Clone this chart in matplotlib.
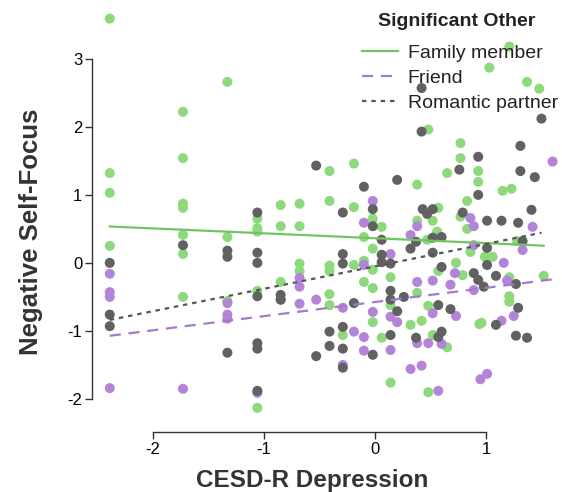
import matplotlib
matplotlib.use("Agg")
import matplotlib.pyplot as plt
import numpy as np

plt.rcParams['font.family'] = ['Liberation Sans', 'DejaVu Sans']
plt.rcParams['axes.unicode_minus'] = False

# CESD-R depression (x) and negative self-focus (y), by significant other
fam_x = [-2.39, -2.39, -2.39, -2.39, -1.73, -1.73, -1.73, -1.73, -1.73, -1.73,
         -1.73, -1.33, -1.33, -1.33, -1.06, -1.06, -1.06, -1.06, -1.06, -0.85,
         -0.85, -0.85, -0.68, -0.68, -0.68, -0.68, -0.41, -0.41, -0.41, -0.41,
         -0.41, -0.41, -0.19, -0.19, -0.19, -0.10, -0.10, -0.10, -0.02, -0.02,
         -0.02, -0.02, -0.02, 0.06, 0.06, 0.14, 0.14, 0.14, -0.29, 0.32,
         0.38, 0.38, 0.38, 0.42, 0.47, 0.48, 0.48, 0.48, 0.52, 0.52,
         0.56, 0.57, 0.57, 0.65, 0.65, 0.73, 0.77, 0.77, 0.77, 0.79,
         0.83, 0.83, 0.86, 0.93, 0.93, 0.94, 0.96, 0.99, 1.03, 1.06,
         1.15, 1.21, 1.21, 1.21, 1.21, 1.23, 1.28, 1.37, 1.48, 1.52]
fam_y = [3.59, 1.32, 1.03, 0.25, 2.22, 1.54, 0.87, 0.81, 0.41, 0.13,
         -0.50, 2.66, 0.38, -0.56, 0.65, 0.51, 0.46, -0.41, -2.13, 0.85,
         0.54, -0.28, 0.87, 0.54, -0.01, -0.12, 1.35, 0.91, -0.04, -0.12,
         -0.46, -0.62, 1.46, 0.82, -0.03, 0.38, 0.03, -0.28, 0.65, 0.21,
         -0.10, -0.37, -0.87, 0.53, -1.10, -0.21, -0.62, -1.76, -1.06, -0.91,
         1.15, 0.62, -0.44, -0.85, 0.34, 1.96, -0.63, -1.90, 0.62, -1.06,
         0.46, 0.81, -0.12, 1.32, -1.24, 0.00, 1.76, 1.54, 0.68, -0.18,
         0.91, 0.50, 0.16, 1.35, 1.19, -0.90, -0.88, 0.09, 2.87, 0.09,
         1.06, 3.18, -0.21, -0.49, -0.57, 1.09, 0.32, 2.66, 2.56, -0.19]

fr_x = [-2.39, -2.39, -2.39, -2.39, -1.73, -1.33, -1.33, -1.33, -1.06, -0.85,
        -0.68, -0.68, -0.68, -0.53, -0.29, -0.29, -0.19, -0.10, -0.10, -0.10,
        -0.10, -0.02, -0.02, 0.14, 0.14, 0.14, 0.20, 0.32, 0.32, 0.38,
        0.38, 0.38, 0.42, 0.48, 0.52, 0.52, 0.57, 0.60, 0.68, 0.72,
        0.73, 0.86, 0.89, 0.89, 0.89, 0.95, 1.01, 1.14, 1.16, 1.19,
        1.25, 1.33, 1.42, 1.60]
fr_y = [-0.16, -0.43, -0.50, -1.84, -1.85, -0.59, -0.76, -0.82, -1.91, -0.54,
        -0.22, -0.35, -0.60, -0.54, -0.66, -1.50, -1.01, 0.59, -0.03, -1.09,
        -1.29, 0.91, -0.72, 0.13, -0.79, -1.28, -0.87, 0.41, -1.56, 0.54,
        -0.28, -1.18, -1.51, -1.18, -0.26, -0.74, -1.88, -1.19, -0.32, -0.15,
        -0.78, 0.66, 0.54, 0.26, -0.40, -1.71, -1.63, -0.85, 0.00, -0.26,
        -0.78, 0.19, 0.53, 1.49]

rom_x = [-2.39, -2.39, -2.39, -1.73, -1.33, -1.33, -1.33, -1.06, -1.06, -1.06,
         -1.06, -1.06, -1.06, -1.06, -0.85, -0.85, -0.53, -0.53, -0.41, -0.41,
         -0.29, -0.29, -0.29, -0.29, -0.29, -0.29, -0.19, -0.10, -0.02, -0.02,
         -0.02, 0.06, 0.06, 0.06, 0.14, 0.14, 0.14, 0.14, 0.20, 0.20,
         0.26, 0.32, 0.37, 0.37, 0.42, 0.42, 0.43, 0.47, 0.52, 0.52,
         0.52, 0.57, 0.57, 0.60, 0.60, 0.60, 0.68, 0.76, 0.79, 0.89,
         0.93, 0.93, 0.93, 0.98, 1.01, 1.01, 1.01, 1.09, 1.09, 1.14,
         1.27, 1.27, 1.29, 1.29, 1.31, 1.31, 1.33, 1.37, 1.41, 1.44, 1.50]
rom_y = [0.00, -0.76, -0.93, 0.26, 0.18, 0.09, -1.32, 0.74, 0.15, 0.00,
         -0.49, -1.18, -1.26, -1.88, -0.47, -0.54, 1.43, -1.37, -1.01, -1.22,
         0.74, 0.13, -0.01, -0.94, -1.26, -1.54, -0.59, 1.12, 0.79, 0.54,
         -1.35, 0.34, 0.12, 0.01, -0.01, -0.41, -0.54, -1.06, 1.22, -0.71,
         -0.50, 0.21, 0.31, -1.10, 2.57, 1.93, 0.79, 0.72, 0.79, 0.37,
         0.15, -0.62, -1.09, 0.38, -0.06, -1.01, -0.68, 1.37, 0.74, -0.15,
         1.56, 1.00, -0.25, -0.35, 0.62, 0.22, -0.03, -0.19, -0.91, 0.62,
         -0.31, -1.07, 0.59, -0.66, 1.72, 1.35, 0.32, -1.10, 0.78, 1.26, 2.12]

groups = ['Family member', 'Friend', 'Romantic partner']
pt_colors = ['#8ed97c', '#b384d8', '#616161']
ln_colors = ['#72c463', '#a57acb', '#555555']
ln_styles = ['-', (0, (5, 3.5)), (0, (2, 2.2))]
data = [(fam_x, fam_y), (fr_x, fr_y), (rom_x, rom_y)]

fig = plt.figure(figsize=(5.62, 4.92), dpi=100)
ax = fig.add_axes([92/562, 60/492, 470/562, 427/492])

for i, (xs, ys) in enumerate(data):
    ax.scatter(xs, ys, s=52, color=pt_colors[i], edgecolors='none', zorder=2 + i)

# linear fit per group, drawn over the group's x range
for i, (xs, ys) in enumerate(data):
    xs = np.array(xs)
    b, a = np.polyfit(xs, ys, 1)
    xx = np.array([xs.min(), xs.max()])
    ax.plot(xx, a + b * xx, color=ln_colors[i], linestyle=ln_styles[i], lw=1.6,
            zorder=6, label=groups[i])

ax.set_xlim(-2.55, 1.685)
ax.set_ylim(-2.485, 3.79)
ax.set_xticks([-2, -1, 0, 1])
ax.set_yticks([-2, -1, 0, 1, 2, 3])
ax.spines['top'].set_visible(False)
ax.spines['right'].set_visible(False)
ax.spines['left'].set_bounds(-2, 3)
ax.spines['bottom'].set_bounds(-2, 1)
for s in ['left', 'bottom']:
    ax.spines[s].set_color('#333333')
    ax.spines[s].set_linewidth(1.0)
ax.tick_params(length=5, width=1.0, color='#333333', labelsize=12, pad=2,
               labelcolor='black')

ax.set_xlabel('CESD-R Depression', fontsize=17.5, fontweight='bold', color='#333333')
ax.set_ylabel('Negative Self-Focus', fontsize=18.5, fontweight='bold', color='#333333')
ax.xaxis.set_label_coords(0.469, -0.086)
ax.yaxis.set_label_coords(-0.105, 0.468)

leg = ax.legend(loc='upper right', bbox_to_anchor=(1.0, 1 - 40/492),
                bbox_transform=fig.transFigure, frameon=False, fontsize=14,
                handlelength=1.85, handletextpad=0.5, labelspacing=0.4,
                borderaxespad=0.0, borderpad=0.2)
for t in leg.get_texts():
    t.set_color('#222222')
fig.text(457/562, 1 - 21/492, 'Significant Other', ha='center', va='center',
         fontsize=14, fontweight='bold', color='#222222')

fig.savefig('out.png', dpi=100)
